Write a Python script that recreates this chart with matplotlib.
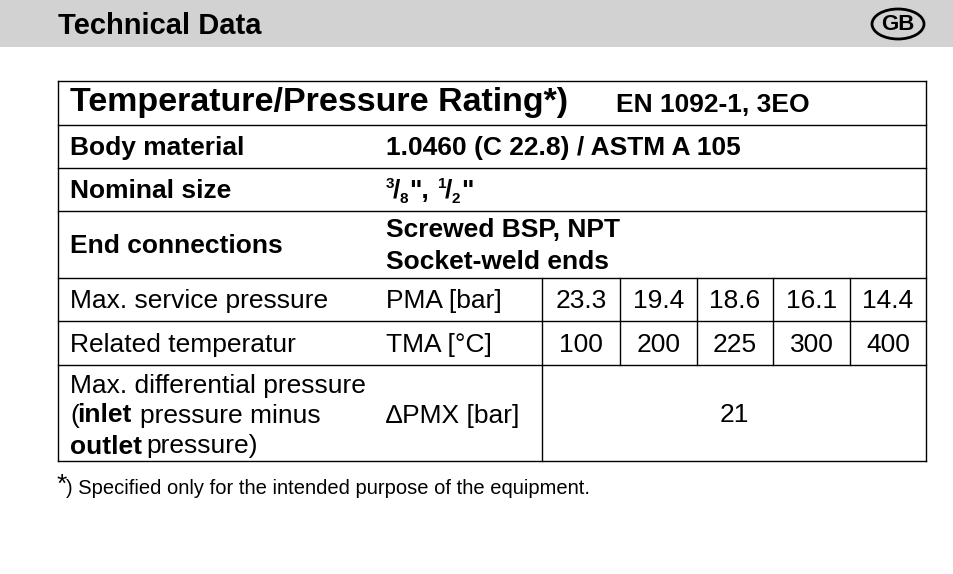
import matplotlib
matplotlib.use("Agg")
import matplotlib.pyplot as plt
from matplotlib.patches import Rectangle, Ellipse

plt.rcParams['font.family'] = ['Liberation Sans', 'DejaVu Sans']

pressures = ["23.3", "19.4", "18.6", "16.1", "14.4"]
temperatures = ["100", "200", "225", "300", "400"]
diff_pressure = "21"

fig = plt.figure(figsize=(9.54, 5.74), dpi=100)
ax = fig.add_axes([0, 0, 1, 1])
ax.set_xlim(0, 954); ax.set_ylim(574, 0); ax.axis('off')

ax.add_patch(Rectangle((0, 0), 954, 47, color='#d2d2d2', lw=0))
ax.text(58, 26, "Technical Data", fontsize=21, weight='bold', va='center')
ax.add_patch(Ellipse((898, 24), 52, 30, fill=False, lw=2, ec='black'))
ax.text(898, 25, "GB", fontsize=16, weight='bold', va='center', ha='center')

L, R = 58, 926
rows = [81, 125, 168, 211, 278, 321, 365, 461]
lw = 1.0
for y in rows:
    ax.plot([L, R], [y, y], color='black', lw=lw)
ax.plot([L, L], [rows[0], rows[-1]], color='black', lw=lw)
ax.plot([R, R], [rows[0], rows[-1]], color='black', lw=lw)
ax.plot([542, 542], [rows[4], rows[-1]], color='black', lw=lw)
cols = [542, 620, 697, 773, 850, 926]
for x in cols[1:-1]:
    ax.plot([x, x], [rows[4], rows[6]], color='black', lw=lw)

ax.text(70, 103, "Temperature/Pressure Rating*)", fontsize=24.5, weight='bold', va='center')
ax.text(616, 105, "EN 1092-1, 3EO", fontsize=19, weight='bold', va='center')
fs = 19
ax.text(70, 148, "Body material", fontsize=fs, weight='bold', va='center')
ax.text(386, 148, "1.0460 (C 22.8) / ASTM A 105", fontsize=fs, weight='bold', va='center')
ax.text(70, 191, "Nominal size", fontsize=fs, weight='bold', va='center')
# fractions 3/8", 1/2"
ax.text(386, 191, "3", fontsize=11, weight='bold', va='bottom')
ax.text(393, 191, "/", fontsize=fs, weight='bold', va='center')
ax.text(400, 192, "8", fontsize=11, weight='bold', va='top')
ax.text(409, 191, "\",", fontsize=fs, weight='bold', va='center')
ax.text(438, 191, "1", fontsize=11, weight='bold', va='bottom')
ax.text(445, 191, "/", fontsize=fs, weight='bold', va='center')
ax.text(452, 192, "2", fontsize=11, weight='bold', va='top')
ax.text(461, 191, "\"", fontsize=fs, weight='bold', va='center')

ax.text(70, 246, "End connections", fontsize=fs, weight='bold', va='center')
ax.text(386, 230, "Screwed BSP, NPT", fontsize=fs, weight='bold', va='center')
ax.text(386, 262, "Socket-weld ends", fontsize=fs, weight='bold', va='center')

ax.text(70, 301, "Max. service pressure", fontsize=fs, va='center')
ax.text(386, 301, "PMA [bar]", fontsize=fs, va='center')
ax.text(70, 345, "Related temperatur", fontsize=fs, va='center')
ax.text(386, 345, "TMA [°C]", fontsize=fs, va='center')
for i in range(5):
    cx = (cols[i] + cols[i + 1]) / 2
    ax.text(cx, 301, pressures[i], fontsize=fs, va='center', ha='center')
    ax.text(cx, 345, temperatures[i], fontsize=fs, va='center', ha='center')

ax.text(70, 383, "Max. differential pressure", fontsize=fs, va='center_baseline')
ax.text(70, 413, "(", fontsize=fs, va='center_baseline')
ax.text(77, 413, "inlet", fontsize=fs, weight='bold', va='center_baseline')
ax.text(140, 413, "pressure minus", fontsize=fs, va='center_baseline')
ax.text(70, 444, "outlet", fontsize=fs, weight='bold', va='center_baseline')
ax.text(146, 444, "pressure)", fontsize=fs, va='center_baseline')
ax.text(386, 413, "∆PMX [bar]", fontsize=fs, va='center_baseline')
ax.text(734, 413, diff_pressure, fontsize=fs, va='center_baseline', ha='center')

ax.text(57, 485, "*", fontsize=19, va='center')
ax.text(66, 489, ") Specified only for the intended purpose of the equipment.", fontsize=14.5, va='center')

fig.savefig("out.png", dpi=100)
